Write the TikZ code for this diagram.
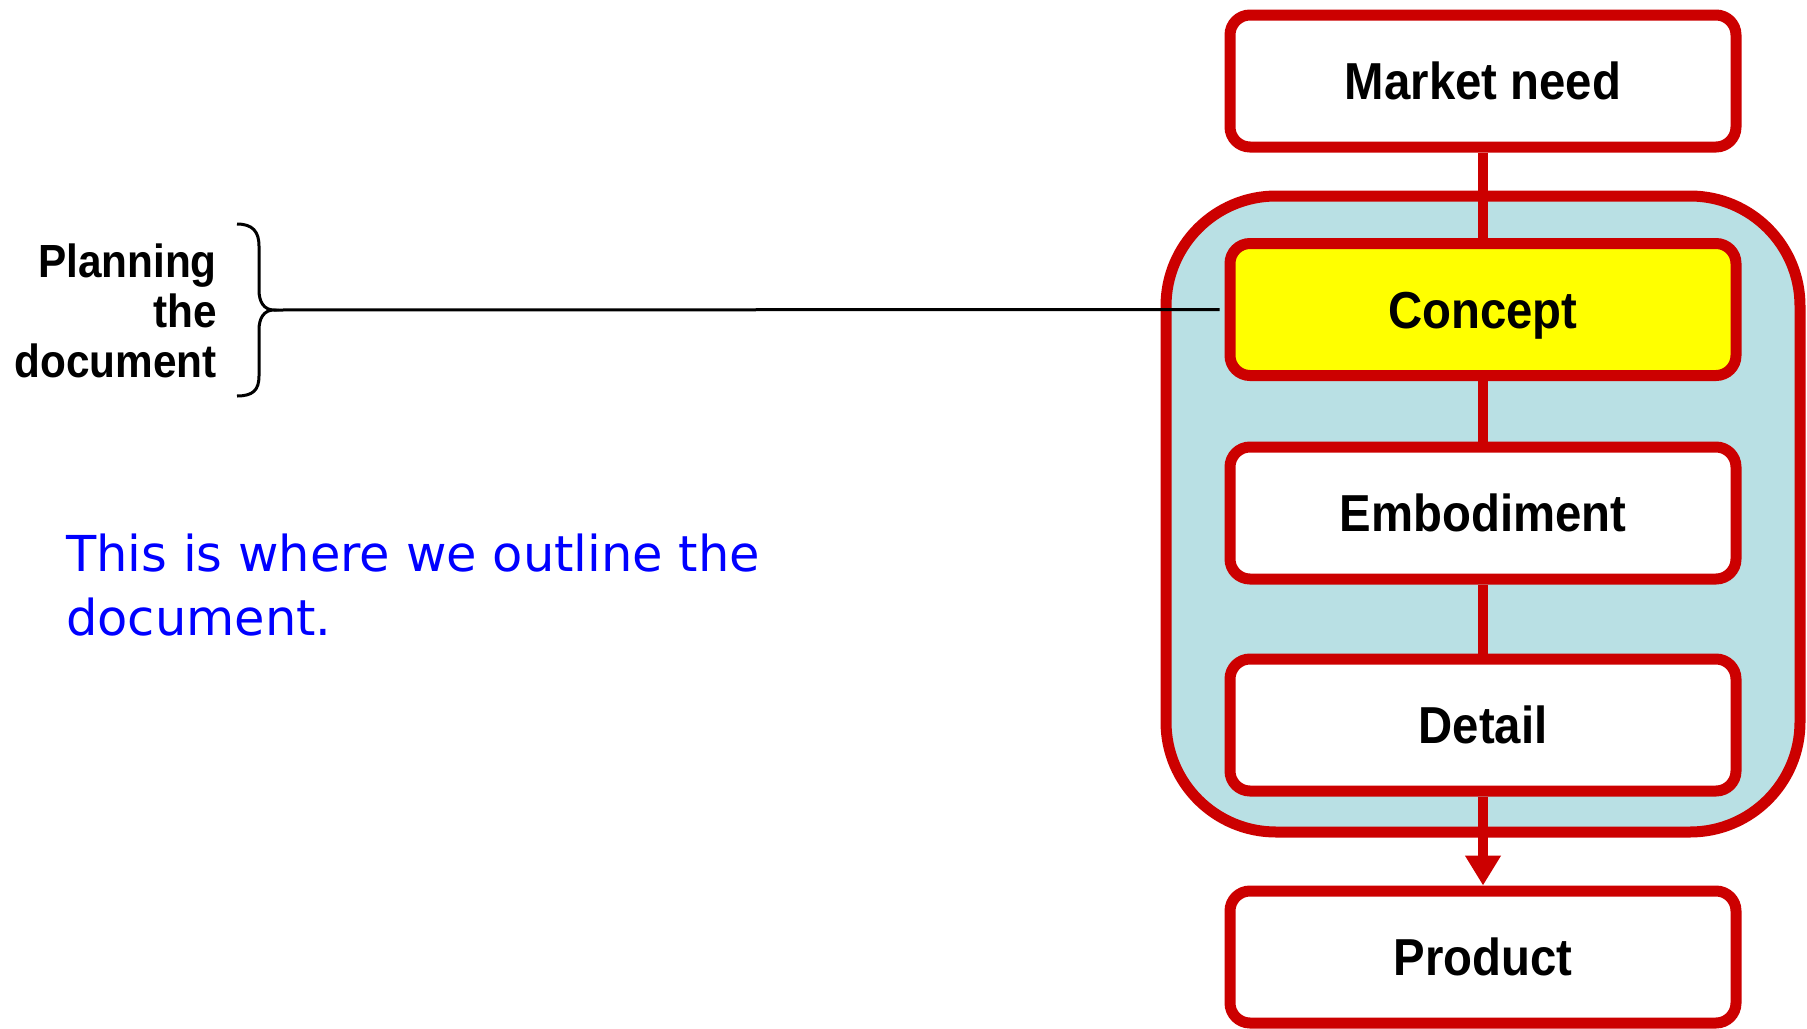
\documentclass[tikz,border=0pt]{standalone}
\usepackage{fontspec}
\setmainfont{Liberation Sans}
\newfontfamily\boxfont[FakeStretch=0.91]{Liberation Sans Bold}
\newfontfamily\notefont{DejaVu Sans}
\usetikzlibrary{arrows.meta}
\definecolor{boxred}{HTML}{CC0000}
\definecolor{paleblue}{HTML}{B9E0E4}
\definecolor{noteblue}{HTML}{0000FF}
\definecolor{conceptyellow}{HTML}{FFFF00}
\tikzset{
  stagebox/.style={draw=boxred, line width=11pt, fill=white, rounded corners=20pt,
    minimum width=506pt, minimum height=132pt, inner sep=0pt,
    text height=37.2pt, text depth=0pt,
    font=\boxfont\fontsize{52}{60}\selectfont},
  link/.style={draw=boxred, line width=10pt},
}
\begin{document}
\begin{tikzpicture}[x=1pt,y=-1pt]
\useasboundingbox[fill=white] (0,0) rectangle (1807,1028);
% container
\node (container) [draw=boxred, line width=11pt, fill=paleblue, rounded corners=110pt,
  minimum width=634pt, minimum height=636pt, inner sep=0pt] at (1483,514) {};
% boxes
\node (market) [stagebox] at (1483,81) {Market need};
\node (concept) [stagebox, fill=conceptyellow] at (1483,309.5) {Concept};
\node (embodiment) [stagebox] at (1483,513) {Embodiment};
\node (detail) [stagebox] at (1483,725) {Detail};
\node (product) [stagebox] at (1483,957) {Product};
% connectors
\draw[link] (market.south) -- (concept.north);
\draw[link] (concept.south) -- (embodiment.north);
\draw[link] (embodiment.south) -- (detail.north);
\draw[link, -{Triangle[length=30pt,width=34pt]}] (detail.south) -- (product.north);
% brace
\coordinate (bracetip) at (274,310);
\draw[line width=3pt] (237,224) .. controls (253,224) and (259,232) .. (259,246) -- (259,290)
  .. controls (259,302) and (264,310) .. (bracetip)
  .. controls (264,310) and (259,318) .. (259,330) -- (259,376)
  .. controls (259,390) and (253,396) .. (237,396);
\coordinate (lineend) at ([xshift=-5pt]concept.west);
\draw[line width=3pt] (bracetip) -- (lineend);
% labels
\node (planning) [anchor=north east, align=right, inner sep=0pt,
  font=\boxfont\fontsize{46.5}{50}\selectfont] at (217,244) {Planning\\the\\document};
\node (note) [anchor=north west, align=left, inner sep=0pt, text=noteblue,
  font=\notefont\fontsize{49.5}{64}\selectfont] at (66,534) {This is where we outline the\\document.};
\end{tikzpicture}
\end{document}
